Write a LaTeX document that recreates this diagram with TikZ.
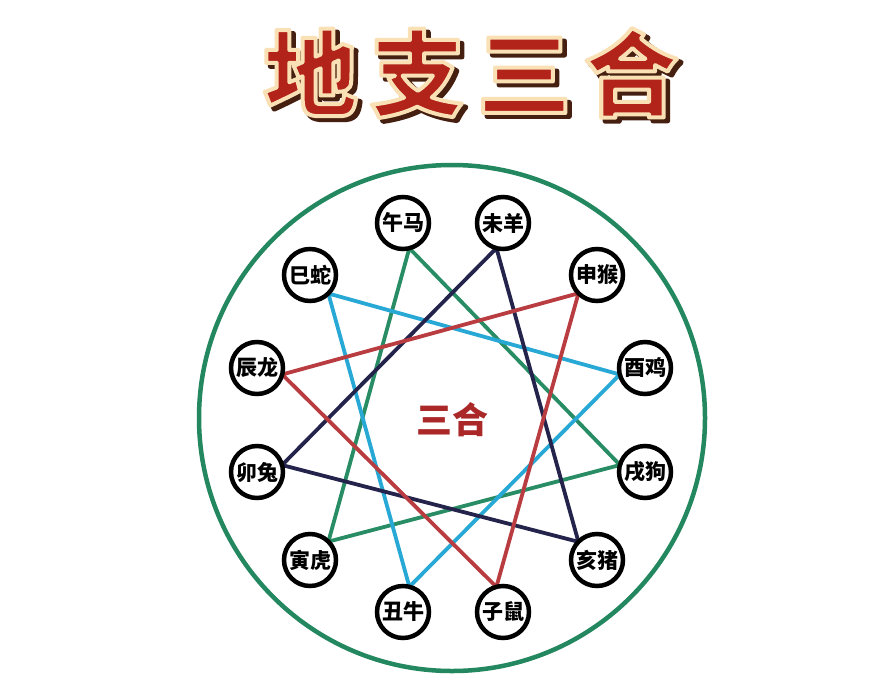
\documentclass[tikz,border=0pt]{standalone}
\usepackage{fontspec}
\newfontfamily\cjk{Noto Sans CJK SC}
\usetikzlibrary{calc,backgrounds}
\definecolor{ringgreen}{RGB}{35,135,95}
\definecolor{trigreen}{RGB}{40,140,100}
\definecolor{tricyan}{RGB}{40,168,212}
\definecolor{trired}{RGB}{185,60,65}
\definecolor{trinavy}{RGB}{35,35,75}
\definecolor{titlered}{RGB}{178,35,25}
\definecolor{titleshadow}{RGB}{70,30,15}
\definecolor{midred}{RGB}{170,40,40}
\newcommand{\strokedtext}[3]{\special{pdf:literal direct 2 Tr #1 w 1 j #2 RG}#3\special{pdf:literal direct 0 Tr}}
\newcommand{\titlestr}{地\hspace{13pt}支\hspace{13pt}三\hspace{13pt}合}
\tikzset{
  zodiac/.style={circle, draw=black, line width=4.5pt, minimum size=52pt, inner sep=0pt, fill=white,
    font=\cjk\bfseries\fontsize{21}{21}\selectfont},
  tri/.style={line width=3.8pt, line join=round},
  titletext/.style={inner sep=0pt, font=\cjk\bfseries\fontsize{94}{94}\selectfont},
}
\begin{document}
\begin{tikzpicture}[x=1pt,y=-1pt]
\useasboundingbox (0,0) rectangle (883,699);
% title
\node[titletext, text=titleshadow] (titleshadow) at (475,76.5) {\strokedtext{5}{0.27 0.12 0.06}{\titlestr}};
\node[titletext, text=titlered] (title) at (471,73) {\strokedtext{4}{0.98 0.88 0.71}{\titlestr}};
\coordinate (O) at (452,418);
% zodiac nodes
\node[zodiac] (wu)   at (403,223) {午马};
\node[zodiac] (wei)  at (503,223) {未羊};
\node[zodiac] (shen) at (597,275) {申猴};
\node[zodiac] (you)  at (645,368) {酉鸡};
\node[zodiac] (xu)   at (645,472) {戌狗};
\node[zodiac] (hai)  at (597,560) {亥猪};
\node[zodiac] (zi)   at (503,612) {子鼠};
\node[zodiac] (chou) at (403,612) {丑牛};
\node[zodiac] (yin)  at (310,560) {寅虎};
\node[zodiac] (mao)  at (257,472) {卯兔};
\node[zodiac] (chen) at (257,368) {辰龙};
\node[zodiac] (si)   at (310,275) {巳蛇};
\foreach \n in {wu,wei,shen,you,xu,hai,zi,chou,yin,mao,chen,si}
  \coordinate (v-\n) at ($(\n.center)!26pt!(O)$);
\node[text=midred, font=\cjk\bfseries\fontsize{36}{36}\selectfont, inner sep=0pt] (mid) at (452,420) {三合};
\begin{pgfonlayer}{background}
  \fill[white] (0,0) rectangle (883,699);
  \draw[ringgreen, line width=4.5pt] (O) circle[radius=253];
  \draw[tri, trigreen] (v-wu) -- (v-yin) -- (v-xu) -- cycle;
  \draw[tri, tricyan] (v-si) -- (v-you) -- (v-chou) -- cycle;
  \draw[tri, trinavy] (v-wei) -- (v-mao) -- (v-hai) -- cycle;
  \draw[tri, trired] (v-shen) -- (v-chen) -- (v-zi) -- cycle;
\end{pgfonlayer}
\end{tikzpicture}
\end{document}
